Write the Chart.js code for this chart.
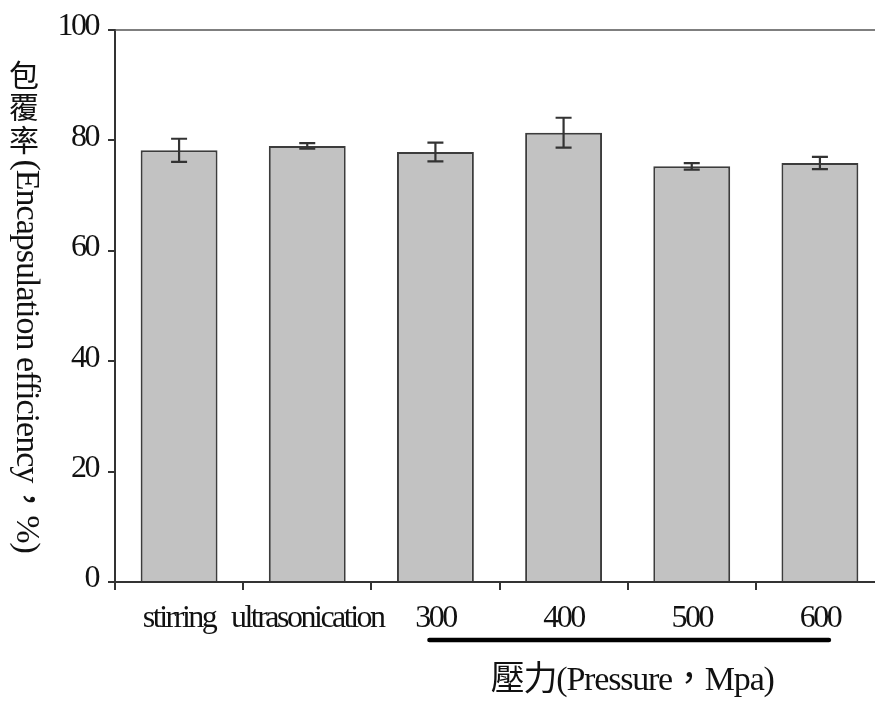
<!DOCTYPE html>
<html>
<head>
<meta charset="utf-8">
<script src="https://cdn.jsdelivr.net/npm/chart.js@4"></script>
<style>
    html, body { margin: 0; padding: 0; background: #fff; overflow: hidden; }
    #wrap { width: 890px; height: 701px; }
</style>
</head>
<body>
<div id="wrap"><canvas id="chart"></canvas></div>
<script>
/* DATA */
const categories = ["stirring", "ultrasonication", "300", "400", "500", "600"];
const efficiency = [78.2, 79.0, 77.9, 81.4, 75.3, 75.9];
const errors = [2.1, 0.5, 1.7, 2.7, 0.6, 1.1];
const yTicks = [0, 20, 40, 60, 80, 100];
const pressureGroup = ["300", "600"];

const yTitle = "包覆率(Encapsulation efficiency，%)";
const xTitle = "壓力(Pressure，Mpa)";

const serif = "'Liberation Serif', 'Times New Roman', 'Noto Sans CJK TC', serif";

/* tight tick text like the original figure */
const tightText = {
    id: "tightText",
    beforeDraw(chart) {
        chart.ctx.letterSpacing = "-2.5px";
    }
};

/* Error bars, box top line, y title, pressure bracket + x title */
const extras = {
    id: "extras",
    afterDatasetsDraw(chart) {
        const ctx = chart.ctx;
        const x = chart.scales.x;
        const y = chart.scales.y;
        const area = chart.chartArea;

        ctx.save();

        // top line of box
        ctx.strokeStyle = "#555";
        ctx.lineWidth = 1.5;
        ctx.beginPath();
        ctx.moveTo(area.left, area.top);
        ctx.lineTo(area.right, area.top);
        ctx.stroke();

        // error bars
        ctx.strokeStyle = "#333";
        ctx.lineWidth = 2.2;
        efficiency.forEach((v, i) => {
            const cx = x.getPixelForValue(i);
            const top = y.getPixelForValue(v + errors[i]);
            const bot = y.getPixelForValue(v - errors[i]);
            ctx.beginPath();
            ctx.moveTo(cx, top); ctx.lineTo(cx, bot);
            ctx.moveTo(cx - 8, top); ctx.lineTo(cx + 8, top);
            ctx.moveTo(cx - 8, bot); ctx.lineTo(cx + 8, bot);
            ctx.stroke();
        });

        // y title: CJK upright, latin rotated (vertical writing)
        ctx.fillStyle = "#111";
        ctx.font = "34px " + serif;
        ctx.letterSpacing = "-1px";
        ctx.textBaseline = "middle";
        let ty = 62;
        const chars = Array.from(yTitle);
        let run = "";
        const flush = () => {
            if (!run) return;
            ctx.save();
            ctx.translate(26, ty);
            ctx.rotate(Math.PI / 2);
            ctx.textAlign = "left";
            ctx.fillText(run, 0, 0);
            ctx.restore();
            ty += ctx.measureText(run).width;
            run = "";
        };
        chars.forEach(c => {
            if (/[\u4e00-\u9fff]/.test(c)) {
                flush();
                ctx.textAlign = "center";
                ctx.letterSpacing = "0px";
                ctx.font = "30px " + serif;
                ctx.fillText(c, 24, ty + 16);
                ctx.font = "34px " + serif;
                ctx.letterSpacing = "-1px";
                ty += 32.5;
            } else {
                run += c;
            }
        });
        flush();

        // bracket under pressure categories
        const i0 = categories.indexOf(pressureGroup[0]);
        const i1 = categories.indexOf(pressureGroup[1]);
        const x0 = x.getPixelForValue(i0) - 6;
        const x1 = x.getPixelForValue(i1) + 9;
        ctx.strokeStyle = "#000";
        ctx.lineWidth = 4.5;
        ctx.lineCap = "round";
        ctx.beginPath();
        ctx.moveTo(x0, 640);
        ctx.lineTo(x1, 640);
        ctx.stroke();

        // x title
        ctx.font = "34px " + serif;
        ctx.letterSpacing = "-1.2px";
        ctx.textAlign = "center";
        ctx.textBaseline = "middle";
        ctx.fillText(xTitle, (x0 + x1) / 2 + 3, 681);

        ctx.restore();
    }
};

new Chart(document.getElementById("chart"), {
    type: "bar",
    data: {
        labels: categories,
        datasets: [{
            data: efficiency,
            backgroundColor: "#c2c2c2",
            borderColor: "#3c3c3c",
            borderWidth: 2,
            borderSkipped: "bottom",
            barPercentage: 0.6,
            categoryPercentage: 1.0
        }]
    },
    options: {
        responsive: true,
        maintainAspectRatio: false,
        animation: false,
        layout: { padding: { top: 30, right: 6, left: 0, bottom: 0 } },
        plugins: {
            legend: { display: false },
            tooltip: { enabled: false }
        },
        scales: {
            x: {
                grid: { drawOnChartArea: false, tickLength: 8, color: "#333", lineWidth: 2 },
                border: { color: "#333", width: 2 },
                ticks: {
                    color: "#111",
                    padding: 9,
                    maxRotation: 0,
                    autoSkip: false,
                    font: { family: serif, size: 32 }
                },
                afterFit: s => { s.height = 119; }
            },
            y: {
                min: 0,
                max: 100,
                afterBuildTicks: s => { s.ticks = yTicks.map(v => ({ value: v })); },
                grid: { drawOnChartArea: false, tickLength: 7, color: "#333", lineWidth: 2 },
                border: { color: "#333", width: 2 },
                ticks: {
                    color: "#111",
                    padding: 10,
                    labelOffset: -3,
                    font: { family: serif, size: 32 }
                },
                afterFit: s => { s.width = 115; }
            }
        }
    },
    plugins: [tightText, extras]
});
</script>
</body>
</html>
